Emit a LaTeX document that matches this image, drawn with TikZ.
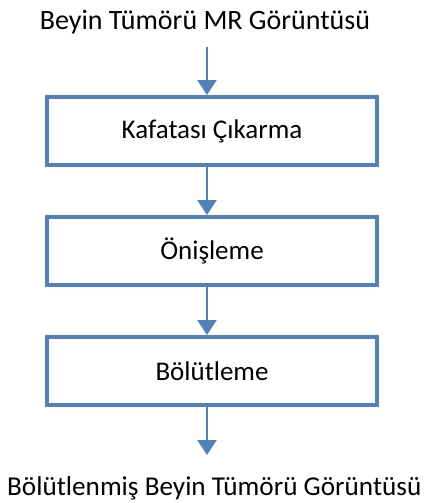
\documentclass[tikz,border=0pt]{standalone}
\usepackage{fontspec}
\setmainfont{Carlito}
\usetikzlibrary{arrows.meta}
\definecolor{obl}{HTML}{4F81BD}
\tikzset{
  stepbox/.style={draw=obl, line width=4pt, fill=white, minimum width=330pt, minimum height=68pt, inner sep=0pt, font=\fontsize{27}{32}\selectfont},
  lbl/.style={inner sep=0pt, font=\fontsize{28}{33}\selectfont},
  flow/.style={draw=obl, line width=2pt, -{Triangle[length=15pt,width=19pt]}}
}
\begin{document}
\begin{tikzpicture}[x=1pt,y=-1pt]
\useasboundingbox (0,0) rectangle (430,503);
\node[lbl, anchor=base] (in) at (205,30) {Beyin Tümörü MR Görüntüsü};
\node[stepbox] (b1) at (212,131) {Kafatası Çıkarma};
\node[stepbox] (b2) at (212,251) {Önişleme};
\node[stepbox] (b3) at (212,371) {Bölütleme};
\node[lbl, anchor=base west, font=\fontsize{27.2}{32}\selectfont] (out) at (7,495) {Bölütlenmiş Beyin Tümörü Görüntüsü};
\coordinate (a0) at (207,47);
\coordinate (a1) at (207,95);
\coordinate (c1) at (207,167);
\coordinate (a2) at (207,215);
\coordinate (c2) at (207,287);
\coordinate (a3) at (207,335);
\coordinate (c3) at (207,407);
\coordinate (a4) at (207,455);
\draw[flow] (a0) -- (a1);
\draw[flow] (c1) -- (a2);
\draw[flow] (c2) -- (a3);
\draw[flow] (c3) -- (a4);
\end{tikzpicture}
\end{document}
